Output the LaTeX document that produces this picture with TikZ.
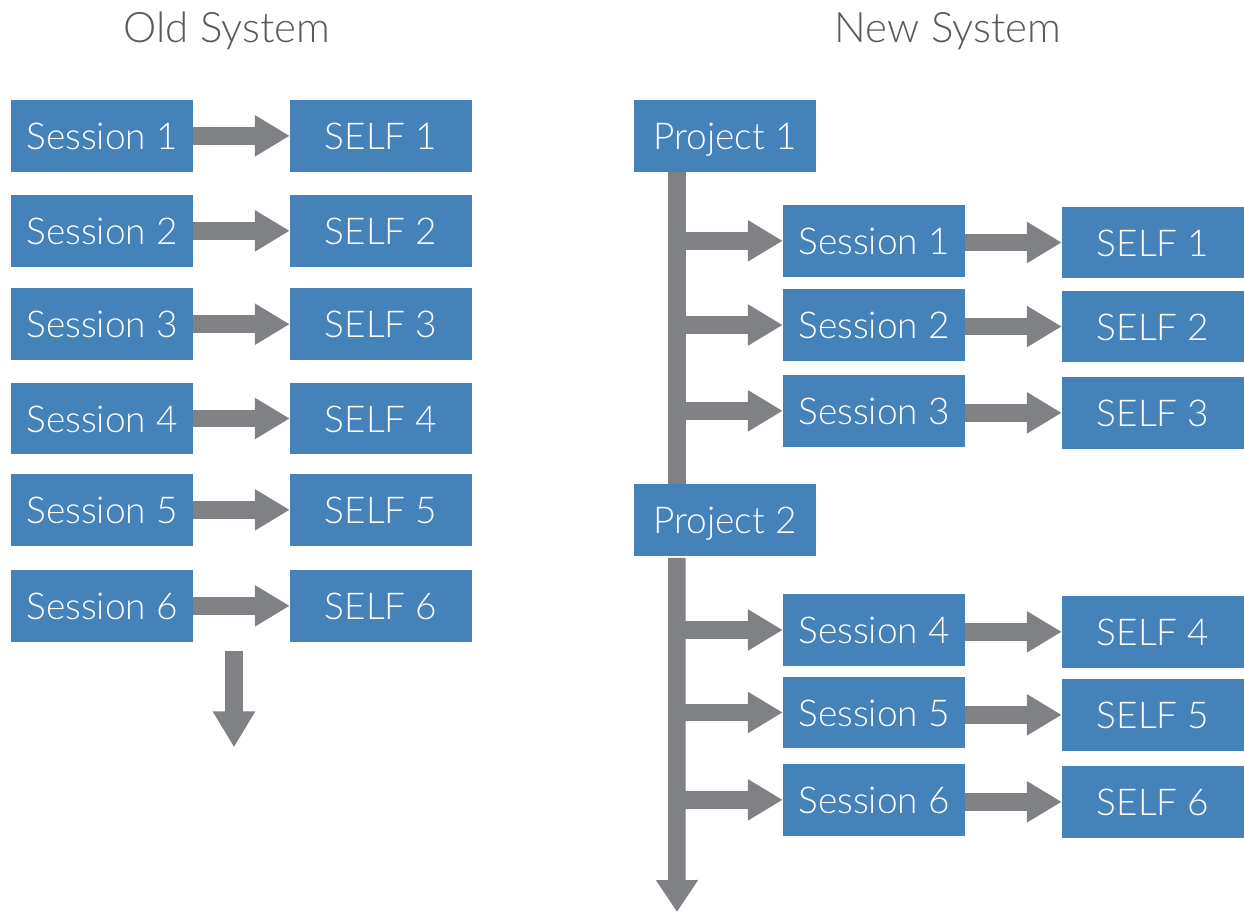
\documentclass[tikz,border=0pt]{standalone}
\usepackage{fontspec}
\setmainfont{Lato}[UprightFont={* Light}]
\usetikzlibrary{arrows.meta}
\definecolor{boxblue}{RGB}{70,130,186}
\definecolor{arrgrey}{RGB}{128,129,132}
\definecolor{titlegrey}{RGB}{89,89,91}
\begin{document}
\begin{tikzpicture}[x=1pt,y=-1pt,
 box/.style={fill=boxblue, text=white, minimum width=182pt, minimum height=71.5pt, inner sep=0pt, font=\fontsize{37}{37}\selectfont, text height=27pt, text depth=0pt, anchor=center},
 title/.style={text=titlegrey, font=\fontsize{42}{42}\selectfont, inner sep=0pt, anchor=base},
 bar/.style={draw=arrgrey, line width=17.5pt},
 flow/.style={draw=arrgrey, line width=17.5pt, -{Triangle[width=39pt,length=35pt]}},
]
\useasboundingbox (0,0) rectangle (1244,912);

% titles
\node[title] (tOld) at (227,43) {Old System};
\node[title] (tNew) at (948,43) {New System};

% ---------- Old system ----------
\node[box] (ls1) at (102,135.85) {Session 1};
\node[box] (ls2) at (102,230.85) {Session 2};
\node[box] (ls3) at (102,324.2) {Session 3};
\node[box] (ls4) at (102,418.5) {Session 4};
\node[box] (ls5) at (102,509.85) {Session 5};
\node[box] (ls6) at (102,605.85) {Session 6};
\node[box] (lf1) at (381,135.85) {SELF 1};
\node[box] (lf2) at (381,230.85) {SELF 2};
\node[box] (lf3) at (381,324.2) {SELF 3};
\node[box] (lf4) at (381,418.5) {SELF 4};
\node[box] (lf5) at (381,509.85) {SELF 5};
\node[box] (lf6) at (381,605.85) {SELF 6};
\foreach \i in {1,...,6}{\draw[flow] (ls\i.east) -- (lf\i.west);}
\coordinate (dtop) at (234,650.7);
\coordinate (dtip) at (234,747.3);
\draw[flow,-{Triangle[width=40pt,length=36pt]}] (dtop) -- (dtip);

% ---------- New system ----------
\node[box] (p1) at (725,135.85) {Project 1};
\node[box] (p2) at (725,519.85) {Project 2};
\node[box] (rs1) at (874,240.85) {Session 1};
\node[box] (rs2) at (874,325) {Session 2};
\node[box] (rs3) at (874,410.85) {Session 3};
\node[box] (rs4) at (874,630) {Session 4};
\node[box] (rs5) at (874,712.5) {Session 5};
\node[box] (rs6) at (874,799.85) {Session 6};
\node[box] (rf1) at (1153,242.5) {SELF 1};
\node[box] (rf2) at (1153,326.5) {SELF 2};
\node[box] (rf3) at (1153,412.85) {SELF 3};
\node[box] (rf4) at (1153,631.85) {SELF 4};
\node[box] (rf5) at (1153,714.85) {SELF 5};
\node[box] (rf6) at (1153,801.85) {SELF 6};

\coordinate (b1) at ([xshift=43pt]p1.south west);
\coordinate (b2) at ([xshift=43pt,yshift=-2pt]p2.south west);
\coordinate (btip) at (677,912);
\draw[bar] (b1) -- (b1 |- p2.north);
\draw[flow,-{Triangle[width=40pt,length=32pt]}] (b2) -- (btip);
\foreach \i in {1,2,3}{\draw[flow] (b1 |- rs\i.west) -- (rs\i.west);}
\foreach \i in {4,5,6}{\draw[flow] (b2 |- rs\i.west) -- (rs\i.west);}
\foreach \i in {1,...,6}{\draw[flow] (rs\i.east |- rf\i.west) -- (rf\i.west);}
\end{tikzpicture}
\end{document}
